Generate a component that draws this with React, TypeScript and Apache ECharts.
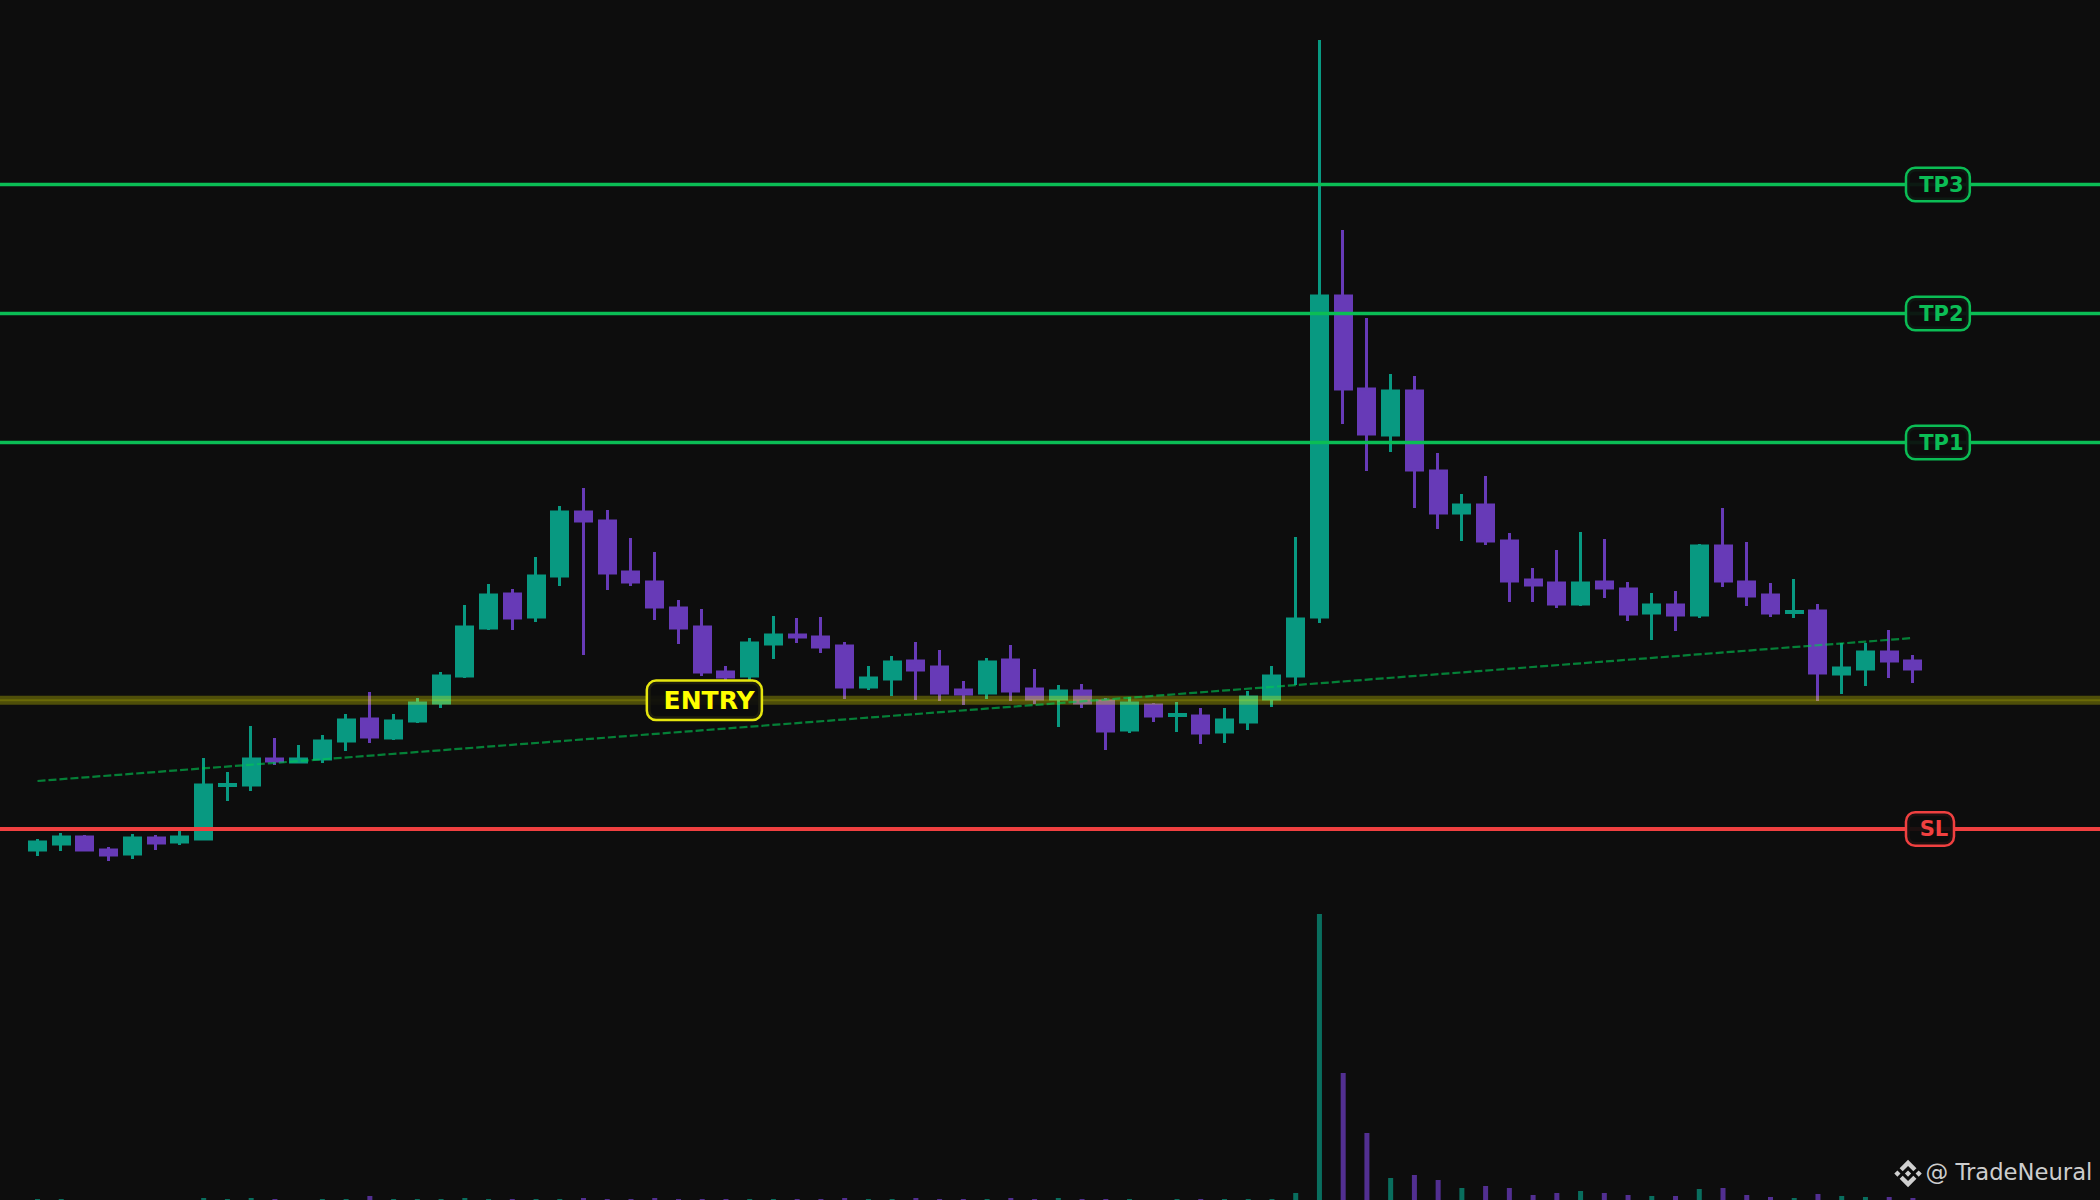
import React, { useEffect, useRef } from "react";
import * as echarts from "echarts";

const opens = [350,356,363,350,346,362,358,361,414.6,415,441,438,441,459,481,462,479,497,524,572,606,583,624,688,679,628,618,592,573,528,524,556,565,563,554,513,521,539,533,510,507,540,511,501,509,499,470,495,484.6,484,468,478,501,524,583,904,811,765,809,729,687,695,659,620,617,596,618,611,587,595,585,654,618,605,587.6,589,526,531,548,539];
const closes = [358,363,350,345,362,357,363,415,415.4,441,439,441,459,480,463,479,497,524,573,605,582,624,688,679,627,618,593,572,528,523,557,565,563,553,513,522,538,530,507,506,538,509,501,509,497,469,497,484,485.4,467,480,503,524,581,904,811,766,809,730,687,695,659,619,615,596,617,612,586,595,585,654,619,604,587,588.4,527,532,548,539,531];
const lows = [344,349,349,339,341,350,355,360,399,409,435,437,437,449,457,460,477,492,522,570,570,578,614,545,610,614,580,556,524,517,520,541,557,547,501,510,504,500,499,495,501,499,496,473,492,450,467,478,468,456,457,470,493,515,577,776,729,748,692,671,659,655,598,598,592,594,602,579,560,569,582,613,594,583,582,499,506,514,522,517];
const highs = [361,367,365,353,366,365,369,442,428,474,462,455,465,486,508,486,502,528,595,616,611,643,694,712,690,662,648,600,591,534,562,584,582,583,558,534,544,558,550,519,542,555,531,515,516,502,503,497,498,492,492,509,534,663,1160,970,882,826,824,747,706,724,667,632,650,668,661,618,607,609,656,692,658,617,621,596,557,557,570,545];
const volumes = [1,1,0,0,0,0,0,2,1,2,1,0,1,1,4,1,1,1,2,1,1,1,1,2,1,1,2,1,1,1,1,1,1,1,2,1,1,2,1,1,1,2,1,2,1,1,1,0,1,1,1,1,1,7,286,127,67,22,25,20,12,14,12,5,7,9,7,5,4,4,11,12,5,3,2,6,4,3,3,2];

const levels = [
  { name: "TP3", value: 1015.5, color: "#0bbd55", slot: 78.76, font: 21, pad: [1.5, 5, 8.5, 12] },
  { name: "TP2", value: 886.5, color: "#0bbd55", slot: 78.76, font: 21, pad: [1.5, 5, 8.5, 12] },
  { name: "TP1", value: 757.5, color: "#0bbd55", slot: 78.76, font: 21, pad: [1.5, 5, 8.5, 12] },
  { name: "SL", value: 371, color: "#f04040", slot: 78.76, font: 21, pad: [1.5, 4.5, 8.5, 12.5] },
];
const entryValue = 499.7;
const trendPoints = [[0, 419], [79, 562]];
const watermark = "@ TradeNeural";

const UP = "#089981";
const DOWN = "#673ab7";
const BG = "#0d0d0d";
const X_MIN = -1.58;
const X_MAX = 86.88;

const LOGO =
  "M16.624 13.9202l2.7175 2.7154-7.353 7.353-7.353-7.352 2.7175-2.7164 4.6355 4.6595 4.6356-4.6595zm4.6366-4.6366L24 12l-2.7154 2.7164L18.5682 12l2.6924-2.7164zm-9.272.001l2.7163 2.6914-2.7164 2.7174v-.001L9.2721 12l2.7164-2.7154zm-9.2722-.001L5.4088 12l-2.6914 2.6924L0 12l2.7164-2.7164zM11.9885.0115l7.353 7.329-2.7174 2.7154-4.6356-4.6356-4.6355 4.6595-2.7174-2.7154 7.353-7.353z";
echarts.graphic.registerShape("binanceLogo", echarts.graphic.extendPath(LOGO, {}) as any);

function hline(value: number, color: string, width: number, z: number) {
  return {
    type: "line",
    data: [[X_MIN, value], [X_MAX, value]],
    showSymbol: false,
    symbol: "none",
    silent: true,
    z,
    lineStyle: { color, width },
  };
}

function tag(name: string, x: number, y: number, color: string, border: string, font: number, pad: number[], lh: number) {
  return {
    type: "scatter",
    data: [[x, y]],
    symbolSize: 0,
    silent: true,
    z: 20,
    itemStyle: { opacity: 1 },
    label: {
      show: true,
      position: "right",
      distance: 0,
      formatter: name,
      color,
      opacity: 1,
      fontFamily: "DejaVu Sans",
      fontWeight: "bold",
      fontSize: font,
      lineHeight: lh,
      padding: pad,
      backgroundColor: "rgba(13,13,13,0.93)",
      borderColor: border,
      borderWidth: 2.5,
      borderRadius: 8,
    },
  };
}

export default function App() {
  const ref = useRef<HTMLDivElement>(null);
  useEffect(() => {
    document.body.style.margin = "0";
    document.body.style.background = BG;
    const chart = echarts.init(ref.current!, undefined, { renderer: "svg" });
    const candleData = opens.map((o, i) => [i, o, closes[i], lows[i], highs[i]]);
    const volumeData = volumes.map((v, i) => ({
      value: [i, v],
      itemStyle: { color: closes[i] >= opens[i] ? "rgba(8,153,129,0.7)" : "rgba(103,58,183,0.78)" },
    }));
    chart.setOption({
      animation: false,
      backgroundColor: BG,
      grid: { left: 0, right: 0, top: 0, bottom: 0 },
      xAxis: { type: "value", min: X_MIN, max: X_MAX, show: false },
      yAxis: { type: "value", min: 0, max: 1200, show: false },
      series: [
        {
          type: "bar",
          data: volumeData,
          barWidth: 5,
          silent: true,
          z: 1,
        },
        {
          type: "candlestick",
          data: candleData,
          encode: { x: 0, y: [1, 2, 3, 4] },
          barWidth: 16.5,
          silent: true,
          z: 2,
          itemStyle: {
            color: UP,
            color0: DOWN,
            borderColor: UP,
            borderColor0: DOWN,
            borderWidth: 3,
          },
        },
        hline(entryValue, "rgba(255,255,0,0.27)", 9, 5),
        hline(entryValue, "rgba(255,255,0,0.16)", 2, 6),
        {
          type: "line",
          data: trendPoints,
          showSymbol: false,
          symbol: "none",
          silent: true,
          z: 7,
          lineStyle: { color: "rgba(0,200,83,0.62)", width: 2.2, type: [8, 3] },
        },
        ...levels.map((l) => hline(l.value, l.color, l.name === "SL" ? 4 : 3.5, 8)),
        ...levels.map((l) => tag(l.name, l.slot, l.value, l.color, l.color, l.font, l.pad, 21)),
        tag("ENTRY", 25.72, entryValue, "#ffff00", "#e6e60f", 25, [4, 6, 8, 15.5], 25),
      ],
      graphic: [
        {
          type: "binanceLogo",
          x: 1894.3,
          y: 1159.8,
          scaleX: 1.146,
          scaleY: 1.146,
          z: 30,
          style: { fill: "#cfcfcf" },
        },
        {
          type: "text",
          x: 1925.5,
          y: 1160.6,
          z: 30,
          style: { text: watermark, fill: "#cdcdcd", fontFamily: "DejaVu Sans", fontSize: 22.7 },
        },
      ],
    });
    return () => chart.dispose();
  }, []);
  return <div ref={ref} style={{ position: "fixed", left: 0, top: 0, width: 2100, height: 1200 }} />;
}
